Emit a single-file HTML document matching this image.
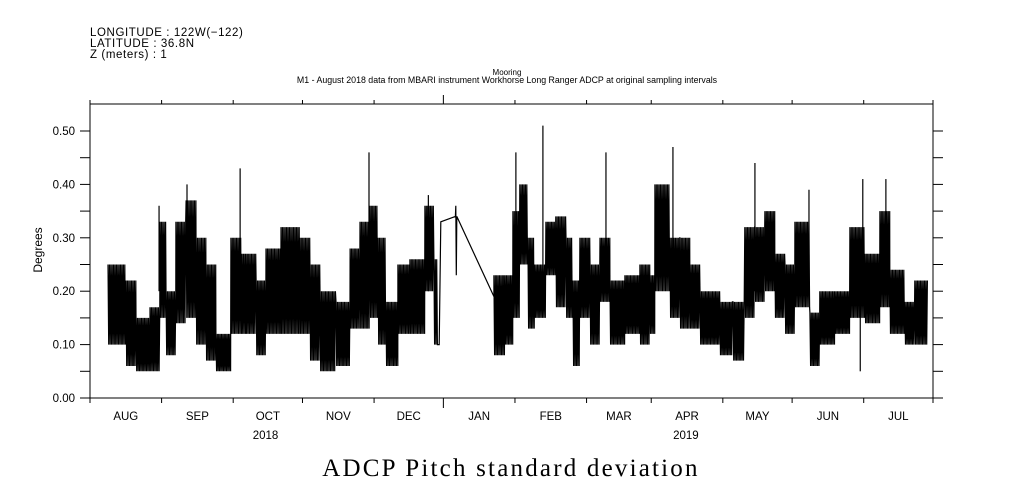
<!DOCTYPE html>
<html><head><meta charset="utf-8"><style>
html,body{margin:0;padding:0;background:#fff;}
svg{display:block;font-family:"Liberation Sans",sans-serif;}
</style></head><body>
<svg id="chart" width="1009" height="504" viewBox="0 0 1009 504" xmlns="http://www.w3.org/2000/svg">
<g font-size="11.5" letter-spacing="0.6" fill="#000">
<text x="90" y="36">LONGITUDE : 122W(−122)</text>
<text x="90" y="47">LATITUDE : 36.8N</text>
<text x="90" y="58">Z (meters) : 1</text>
</g>
<text x="507" y="75" font-size="8" text-anchor="middle">Mooring</text>
<text x="507" y="83" font-size="8.8" text-anchor="middle">M1 - August 2018 data from MBARI instrument Workhorse Long Ranger ADCP at original sampling intervals</text>
<text x="0" y="0" font-size="12" text-anchor="middle" transform="translate(42,250) rotate(-90)">Degrees</text>
<text x="511" y="476" font-size="25" letter-spacing="2.2" text-anchor="middle" font-family="Liberation Serif, serif">ADCP Pitch standard deviation</text>
<rect x="90" y="104" width="843" height="294" fill="none" stroke="#000" stroke-width="1"/>
<g id="axes"></g>
<g id="marks"></g>
</svg>
<script>
const monthLabels=["AUG","SEP","OCT","NOV","DEC","JAN","FEB","MAR","APR","MAY","JUN","JUL"];
const monthDays=[31,31,30,31,30,31,31,28,31,30,31,30,31];
const yearLabels=["2018","2019"];
const yTicks=[0,0.1,0.2,0.3,0.4,0.5];
const segDays=[7.8,15.6,19.9,26,30.3,32.9,37.2,41.6,45.9,50.2,54.5,61,65.8,67.5,71.9,76.2,82.7,90.9,95.2,99.6,106.5,112.6,116.9,121.2,124.7,128.1,133.3,138.5,145,148.9,150.6];
const segHi=[0.25,0.22,0.15,0.17,0.33,0.20,0.33,0.37,0.30,0.25,0.12,0.30,0.27,0.27,0.22,0.28,0.32,0.30,0.25,0.20,0.18,0.28,0.33,0.36,0.30,0.18,0.25,0.26,0.36,0.26];
const segLo=[0.10,0.06,0.05,0.05,0.15,0.08,0.14,0.15,0.10,0.07,0.05,0.12,0.12,0.12,0.08,0.12,0.12,0.12,0.07,0.05,0.06,0.13,0.13,0.15,0.10,0.06,0.12,0.12,0.20,0.10];
const gapDays=[151.2,151.9,158.2,158.4,158.6,158.8,174.9];
const gapVals=[0.10,0.33,0.34,0.36,0.23,0.34,0.19];
const seg2Days=[174.9,179.7,183.1,186.1,189.6,192.6,197.4,201.7,206.1,209.1,212.1,216.5,220.8,225.1,231.6,238.1,242.4,244.6,251.1,255.4,259.7,264.1,272.7,278.4,283.5,287.9,292.2,296.5,300.9,305.2,311.7,316,322.5,329,335.5,342,346.3,352.8,357.1,362.8];
const seg2Hi=[0.23,0.23,0.35,0.40,0.30,0.25,0.33,0.34,0.30,0.22,0.30,0.25,0.30,0.22,0.23,0.25,0.23,0.40,0.30,0.30,0.25,0.20,0.18,0.18,0.32,0.32,0.35,0.27,0.25,0.33,0.16,0.20,0.20,0.32,0.27,0.35,0.24,0.18,0.22];
const seg2Lo=[0.08,0.10,0.15,0.25,0.13,0.15,0.23,0.17,0.15,0.06,0.15,0.10,0.18,0.10,0.12,0.10,0.12,0.20,0.15,0.13,0.13,0.10,0.08,0.07,0.15,0.18,0.20,0.15,0.12,0.17,0.06,0.10,0.12,0.15,0.14,0.17,0.12,0.10,0.10];
const spikeDays=[29.9,65,42,120.8,184.4,196.1,223.4,252.4,287.9,311.3,334.6,344.6,146.5,333.5];
const spikeVals=[0.36,0.43,0.40,0.46,0.46,0.51,0.46,0.47,0.44,0.39,0.41,0.41,0.38,0.05];

const NS="http://www.w3.org/2000/svg";
const X0=90,X1=933,Y0=398,Y1=131;
const xs=d=>X0+d*(X1-X0)/365;
const ys=v=>Y0-v*(Y0-Y1)/0.5;
function mk(tag,attrs,parent){const e=document.createElementNS(NS,tag);for(const k in attrs)e.setAttribute(k,attrs[k]);parent.appendChild(e);return e;}
const axes=document.getElementById('axes'),marks=document.getElementById('marks');
for(let i=0;i<yTicks.length;i++){
 const v=yTicks[i];const y=ys(v);
 const t=mk('line',{x1:80,x2:90,y1:y,y2:y,stroke:'#000'},axes);
 
 
 const r=mk('line',{x1:933,x2:943,y1:y,y2:y,stroke:'#000'},axes);
 
 
 const lb=mk('text',{x:75,y:y+4,'font-size':11.5,'text-anchor':'end'},axes);
 lb.textContent=v.toFixed(2);
 
 
 if(i<yTicks.length-1){const ym=ys(v+0.05);
  const m=mk('line',{x1:80,x2:90,y1:ym,y2:ym,stroke:'#000'},axes);
  
  
  const m2=mk('line',{x1:933,x2:943,y1:ym,y2:ym,stroke:'#000'},axes);
  
  }
}
let d=0;
for(let i=0;i<=12;i++){
 const x=xs(d);const jan=(i===5);
 const tb=mk('line',{x1:x,x2:x,y1:398,y2:jan?408:403,stroke:'#000'},axes);
 
 
 const tt=mk('line',{x1:x,x2:x,y1:104,y2:jan?95:100,stroke:'#000'},axes);
 
 
 if(i<12){const xm=xs(d+monthDays[i]/2);
  const lb=mk('text',{x:xm,y:420,'font-size':11.5,'text-anchor':'middle'},axes);
  lb.textContent=monthLabels[i];
  
  }
 d+=monthDays[i];
}
const y1=mk('text',{x:xs(76),y:439,'font-size':11.5,'text-anchor':'middle'},axes);
y1.textContent=yearLabels[0];


const y2=mk('text',{x:xs(258),y:439,'font-size':11.5,'text-anchor':'middle'},axes);
y2.textContent=yearLabels[1];


const pts=[];
function zig(days,hi,lo){
 for(let i=0;i<hi.length;i++){
  const xa=xs(days[i]),xb=xs(days[i+1]);let k=0;
  for(let x=xa;x<xb;x+=0.7){pts.push([x,ys(k%2?lo[i]:hi[i])]);k++;}
 }
}
zig(segDays,segHi,segLo);
for(let i=0;i<gapDays.length;i++)pts.push([xs(gapDays[i]),ys(gapVals[i])]);
zig(seg2Days,seg2Hi,seg2Lo);
const pl=mk('polyline',{points:pts.map(p=>p[0].toFixed(1)+','+p[1].toFixed(1)).join(' '),fill:'none',stroke:'#000','stroke-width':1.2},marks);


for(let i=0;i<spikeDays.length;i++){
 const sp=mk('line',{x1:xs(spikeDays[i]),x2:xs(spikeDays[i]),y1:ys(0.2),y2:ys(spikeVals[i]),stroke:'#000','stroke-width':1.2},marks);
 
 
}
</script>
</body></html>
